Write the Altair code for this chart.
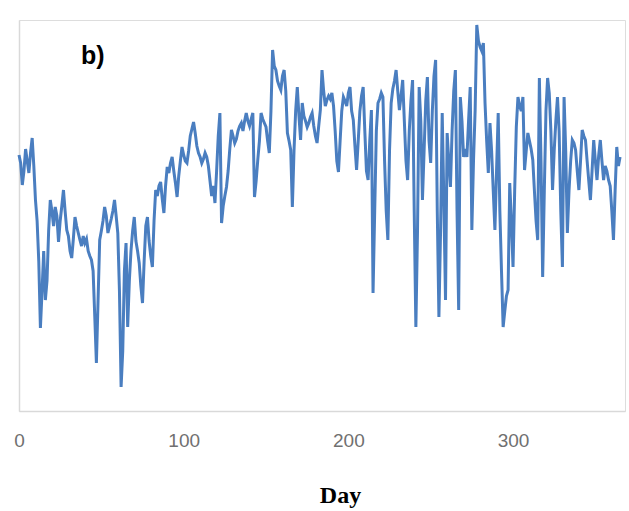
import altair as alt
import pandas as pd

# Daily series (arbitrary units, y-axis unlabeled in the original)
values = [
    256, 248, 226, 240, 262, 250, 238, 258, 273, 245,
    211, 190, 150, 83, 120, 160, 111, 130, 180, 211,
    200, 185, 204, 195, 169, 190, 205, 221, 200, 181,
    175, 160, 153, 172, 194, 185, 178, 171, 165, 175,
    168, 172, 160, 155, 151, 140, 95, 48, 110, 171,
    180, 190, 204, 195, 178, 185, 192, 200, 211, 195,
    178, 120, 24, 60, 140, 168, 84, 130, 160, 180,
    194, 170, 160, 148, 125, 108, 150, 185, 194, 170,
    155, 144, 190, 221, 215, 225, 229, 212, 198, 225,
    244, 238, 248, 254, 240, 228, 214, 235, 250, 264,
    256, 250, 248, 260, 275, 282, 289, 278, 265, 258,
    254, 248, 252, 258, 254, 245, 230, 215, 225, 208,
    240, 275, 298, 188, 205, 215, 224, 240, 262, 281,
    275, 268, 272, 280, 285, 288, 280, 290, 298, 290,
    285, 292, 298, 214, 230, 251, 270, 298, 292, 288,
    284, 270, 258, 300, 361, 345, 341, 330, 325, 321,
    335, 341, 320, 278, 270, 261, 204, 260, 300, 324,
    295, 271, 308, 295, 290, 284, 288, 294, 298, 285,
    275, 268, 285, 301, 341, 320, 305, 311, 315, 312,
    318, 305, 280, 250, 239, 270, 300, 314, 310, 305,
    318, 324, 300, 291, 265, 241, 270, 300, 315, 324,
    280, 240, 231, 270, 301, 118, 200, 280, 308, 312,
    318, 314, 250, 200, 171, 260, 308, 322, 330, 341,
    320, 301, 315, 331, 290, 250, 231, 280, 310, 331,
    200, 84, 180, 324, 290, 211, 260, 310, 334, 270,
    248, 300, 335, 351, 200, 94, 180, 298, 210, 111,
    278, 250, 224, 280, 320, 341, 200, 101, 314, 290,
    254, 262, 254, 290, 324, 181, 250, 301, 386, 370,
    364, 360, 368, 308, 270, 238, 288, 260, 220, 181,
    240, 298, 200, 140, 84, 100, 115, 121, 228, 190,
    144, 220, 284, 314, 305, 300, 314, 241, 260, 278,
    270, 262, 251, 220, 190, 171, 333, 250, 134, 220,
    300, 333, 318, 280, 221, 260, 290, 314, 280, 200,
    144, 314, 260, 178, 220, 250, 271, 268, 261, 240,
    221, 250, 281, 275, 271, 250, 230, 211, 240, 271,
    250, 231, 255, 271, 250, 231, 245, 240, 231, 225,
    200, 171, 220, 264, 245, 254,
]
days = list(range(len(values)))
x_ticks = [0, 100, 200, 300]

df = pd.DataFrame({"Day": days, "Value": values})

chart = (
    alt.Chart(df)
    .mark_line(color="#4a7ec0", strokeWidth=3, strokeJoin="miter")
    .encode(
        x=alt.X(
            "Day:Q",
            scale=alt.Scale(domain=[0, 368], nice=False, zero=True),
            axis=alt.Axis(
                values=x_ticks,
                title="Day",
                titleFont="Liberation Serif",
                titleFontSize=24,
                titleFontWeight="bold",
                titleColor="#000000",
                titleX=321,
                titleY=91,
                titleBaseline="alphabetic",
                labelFont="Liberation Sans",
                labelFontSize=19,
                labelColor="#707070",
                labelPadding=20,
                labelFlush=False,
                ticks=False,
                grid=False,
                domainColor="#d9d9d9",
                domainWidth=1.5,
            ),
        ),
        y=alt.Y(
            "Value:Q",
            scale=alt.Scale(domain=[0, 391], nice=False),
            axis=alt.Axis(
                title=None,
                labels=False,
                ticks=False,
                grid=False,
                domainColor="#d9d9d9",
                domainWidth=1.5,
            ),
        ),
    )
    .properties(
        width=606,
        height=391,
        title=alt.TitleParams(
            text="b)",
            anchor="start",
            dx=68,
            offset=-50,
            baseline="top",
            font="Liberation Sans",
            fontSize=25,
            fontWeight="bold",
            color="#000000",
        ),
        autosize=alt.AutoSizeParams(type="none"),
        padding={"left": 19, "top": 20, "right": 4, "bottom": 100},
    )
    .configure_view(stroke=None)
    .configure(background="#ffffff")
)

chart.save("out.html", embed_options={"renderer": "svg", "actions": False})
